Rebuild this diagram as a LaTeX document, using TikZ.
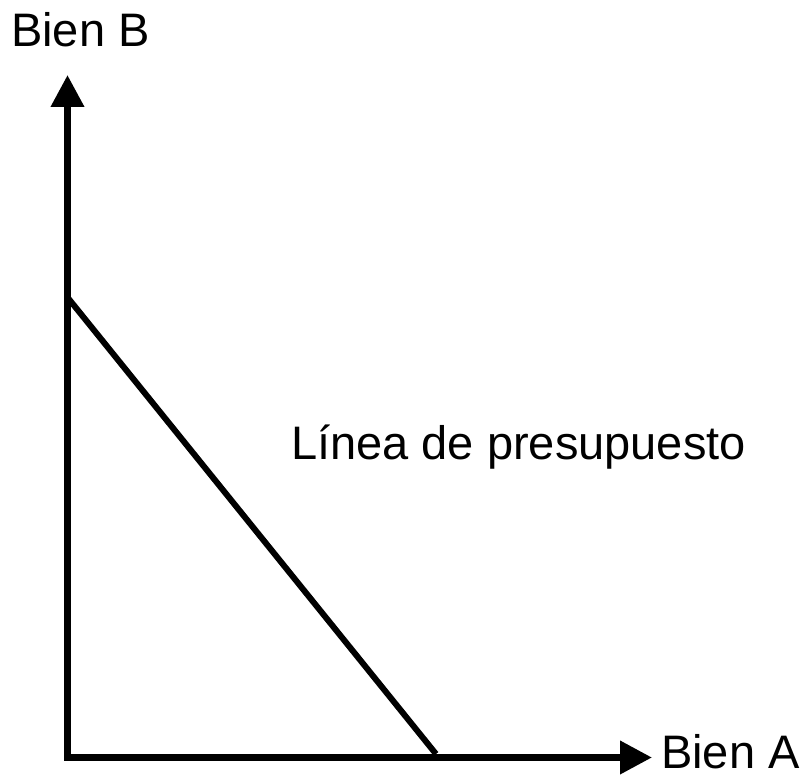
\documentclass[tikz,border=0pt]{standalone}
\usepackage{fontspec}
\setmainfont{Liberation Sans}
\usetikzlibrary{arrows.meta}
\begin{document}
\begin{tikzpicture}[x=1pt,y=1pt,
  axis/.style={line width=7pt, line join=miter, {Triangle[length=32pt,width=32pt]}-{Triangle[length=32pt,width=32pt]}},
  budget/.style={line width=6pt},
  lbl/.style={inner sep=0pt, anchor=base west, font=\fontsize{47}{56}\selectfont}]
\useasboundingbox (0,0) rectangle (808,775);
\coordinate (ytip) at (67.5,700);
\coordinate (origin) at (67.5,17.5);
\coordinate (xtip) at (652,17.5);
\coordinate (bstart) at (68,477);
\coordinate (bend) at (436,21);
\draw[axis] (ytip) -- (origin) -- (xtip);
\draw[budget] (bstart) -- (bend);
\node[lbl] (lb) at (11,728) {Bien B};
\node[lbl] (la) at (661,6) {Bien A};
\node[lbl] (ll) at (291,315) {Línea de presupuesto};
\end{tikzpicture}
\end{document}
